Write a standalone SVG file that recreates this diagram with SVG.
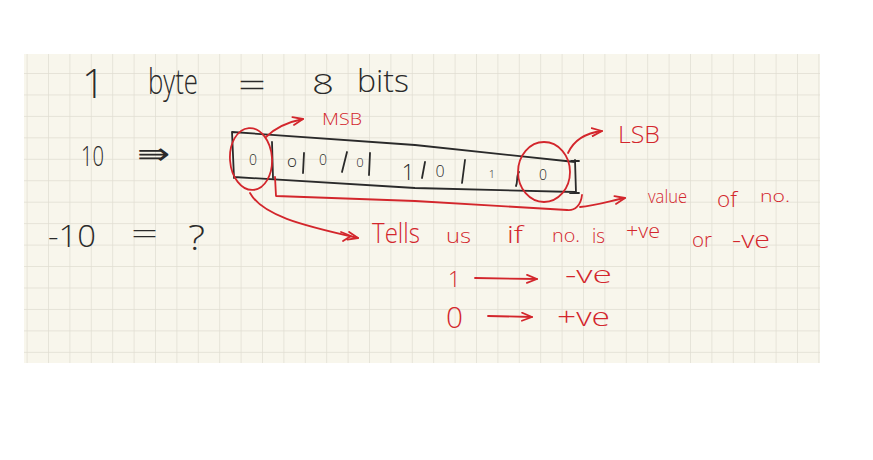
<svg xmlns="http://www.w3.org/2000/svg" width="873" height="460" viewBox="0 0 873 460">
<defs>
<pattern id="grid" x="48" y="73" width="21.4" height="21.45" patternUnits="userSpaceOnUse">
<path d="M0,0 V21.45 M0,0 H21.4" fill="none" stroke="#e0ddd1" stroke-width="1.4"/>
</pattern>
<marker id="ah" viewBox="0 0 12 10" refX="11" refY="5" markerWidth="12" markerHeight="10" markerUnits="userSpaceOnUse" orient="auto">
<path d="M1,1 L11,5 L1,9" fill="none" stroke="#d3262c" stroke-width="1.8" stroke-linecap="round" stroke-linejoin="round"/>
</marker>
</defs>
<style>
.k{fill:#2a2a2a;font-family:"Open Sans","DejaVu Sans",sans-serif;font-weight:300}
.r{fill:#d3262c;font-family:"Open Sans","DejaVu Sans",sans-serif;font-weight:300}
.kl{fill:none;stroke:#2a2a2a;stroke-width:1.8;stroke-linecap:round;stroke-linejoin:round}
.rl{fill:none;stroke:#d3262c;stroke-width:1.8;stroke-linecap:round;stroke-linejoin:round}
.m{text-anchor:middle}
</style>
<rect width="873" height="460" fill="#ffffff"/>
<rect x="24" y="54" width="796" height="309" fill="#f8f6ec"/>
<rect x="24" y="54" width="796" height="309" fill="url(#grid)"/>

<g id="title">
<text class="k" x="82" y="98" font-size="40">1</text>
<text class="k" x="148" y="94" font-size="34" textLength="50" lengthAdjust="spacingAndGlyphs">byte</text>
<text class="k" x="238" y="97" font-size="34" textLength="28" lengthAdjust="spacingAndGlyphs">=</text>
<text class="k" x="312" y="94" font-size="28" textLength="22" lengthAdjust="spacingAndGlyphs">8</text>
<text class="k" x="357" y="92" font-size="32" textLength="52" lengthAdjust="spacingAndGlyphs">bits</text>
</g>

<g id="ten">
<text class="k" x="81" y="166" font-size="28" textLength="23" lengthAdjust="spacingAndGlyphs">10</text>
<text class="k" x="137" y="164" font-size="30" textLength="33" lengthAdjust="spacingAndGlyphs">⇛</text>
</g>

<g id="minus-ten">
<text class="k" x="48" y="247" font-size="32" textLength="48" lengthAdjust="spacingAndGlyphs">-10</text>
<text class="k" x="131" y="244" font-size="32" textLength="27" lengthAdjust="spacingAndGlyphs">=</text>
<text class="k" x="188" y="250" font-size="34" textLength="17" lengthAdjust="spacingAndGlyphs">?</text>
</g>

<g id="byte-box">
<path class="kl" d="M232,132 L415,145 L575,162 M234,177 L415,188 L575,192 M232,132 L234,178 M575,160 L576,193 M571,161 L579,161 M570,193 L579,193"/>
<path class="kl" d="M272,142 L273,178 M304,153 L303,173 M347,152 L342,172 M370,153 L369,175 M425,162 L422,178 M465,160 L462,183 M519,172 C516,176 518,182 516,186"/>
<text class="k m" x="253" y="165" font-size="14">0</text>
<text class="k m" x="292" y="167" font-size="17">o</text>
<text class="k m" x="323" y="165" font-size="14">0</text>
<text class="k m" x="360" y="167" font-size="13">0</text>
<text class="k m" x="408" y="180" font-size="22">1</text>
<text class="k m" x="440" y="177" font-size="16">0</text>
<text class="k m" x="492" y="178" font-size="11">1</text>
<text class="k m" x="543" y="180" font-size="14">0</text>
</g>

<g id="msb">
<ellipse class="rl" cx="251" cy="159" rx="21" ry="31" transform="rotate(-4 251 159)"/>
<text class="r" x="322" y="125" font-size="16" textLength="40" lengthAdjust="spacingAndGlyphs">MSB</text>
</g>

<g id="lsb">
<ellipse class="rl" cx="544" cy="172" rx="26" ry="30"/>
<text class="r" x="618" y="143" font-size="24" textLength="42" lengthAdjust="spacingAndGlyphs">LSB</text>
</g>

<g id="value">
<text class="r" x="648" y="203" font-size="18" textLength="39" lengthAdjust="spacingAndGlyphs">value</text>
<text class="r" x="717" y="207" font-size="22" textLength="20" lengthAdjust="spacingAndGlyphs">of</text>
<text class="r" x="760" y="202" font-size="16" textLength="30" lengthAdjust="spacingAndGlyphs">no.</text>
</g>

<g id="tells">
<text class="r" x="372" y="243" font-size="28" textLength="48" lengthAdjust="spacingAndGlyphs">Tells</text>
<text class="r" x="446" y="243" font-size="20" textLength="25" lengthAdjust="spacingAndGlyphs">us</text>
<text class="r" x="507" y="243" font-size="24" textLength="16" lengthAdjust="spacingAndGlyphs">if</text>
<text class="r" x="552" y="242" font-size="18" textLength="28" lengthAdjust="spacingAndGlyphs">no.</text>
<text class="r" x="592" y="243" font-size="20" textLength="13" lengthAdjust="spacingAndGlyphs">is</text>
<text class="r" x="626" y="238" font-size="20" textLength="34" lengthAdjust="spacingAndGlyphs">+ve</text>
<text class="r" x="692" y="247" font-size="20" textLength="20" lengthAdjust="spacingAndGlyphs">or</text>
<text class="r" x="732" y="248" font-size="24" textLength="38" lengthAdjust="spacingAndGlyphs">-ve</text>
</g>

<g id="one-neg">
<text class="r" x="448" y="287" font-size="22">1</text>
<text class="r" x="565" y="283" font-size="24" textLength="47" lengthAdjust="spacingAndGlyphs">-ve</text>
</g>

<g id="zero-pos">
<text class="r" x="446" y="328" font-size="30" font-weight="700" textLength="17" lengthAdjust="spacingAndGlyphs">0</text>
<text class="r" x="557" y="326" font-size="26" textLength="53" lengthAdjust="spacingAndGlyphs">+ve</text>
</g>

<g id="connectors">
<path class="rl" d="M266,137 C275,128 288,122 303,119" marker-end="url(#ah)"/>
<path class="rl" d="M568,153 C574,140 585,133 602,131" marker-end="url(#ah)"/>
<path class="rl" d="M275,177 L276,196 L415,201 L567,210 C575,211 581,205 582,195"/>
<path class="rl" d="M580,207 C595,206 610,201 625,198" marker-end="url(#ah)"/>
<path class="rl" d="M250,193 C262,215 300,225 358,238" marker-end="url(#ah)"/>
<path class="rl" d="M341,232 L351,236 L343,241"/>
<path class="rl" d="M475,278 L537,279" marker-end="url(#ah)"/>
<path class="rl" d="M488,316 L532,317" marker-end="url(#ah)"/>
</g>
</svg>
